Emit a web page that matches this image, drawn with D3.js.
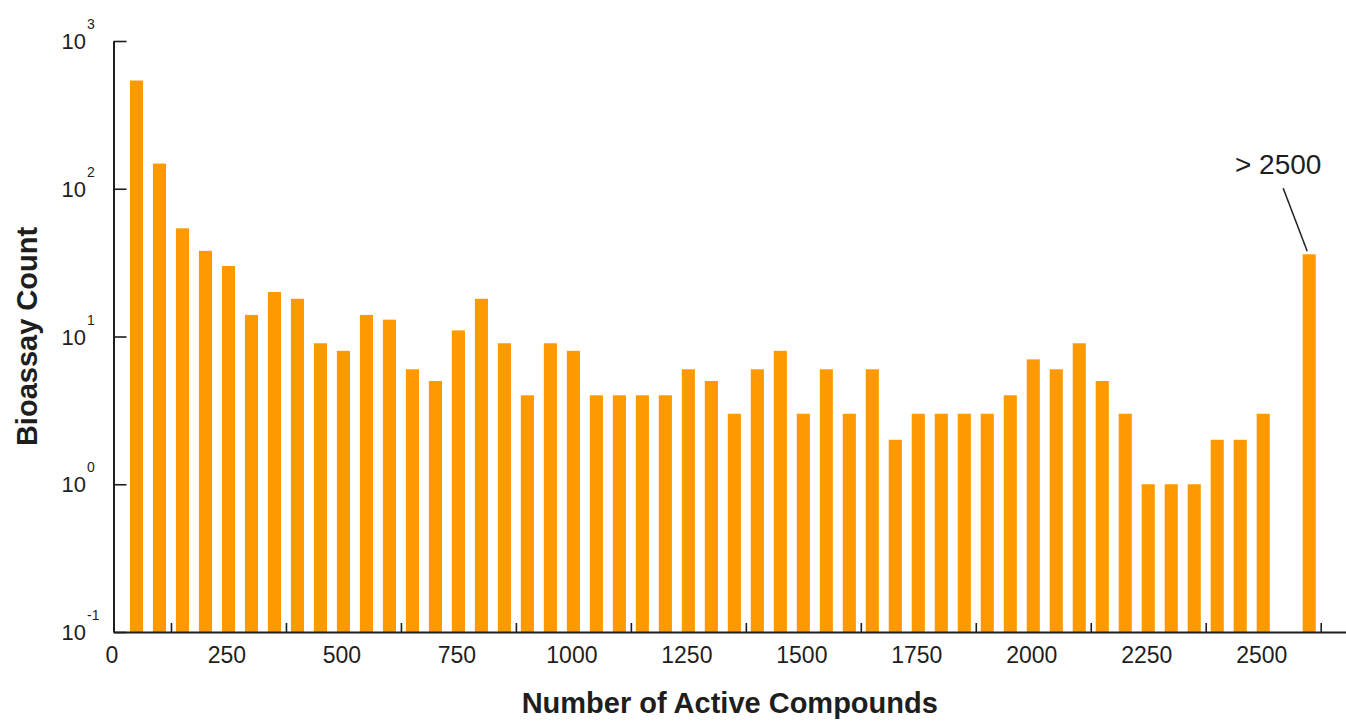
<!DOCTYPE html>
<html>
<head>
<meta charset="utf-8">
<script src="https://cdn.jsdelivr.net/npm/d3@7"></script>
<style>
  html, body { margin: 0; padding: 0; background: #ffffff; }
  svg { display: block; }
  text { font-family: "Liberation Sans", Arial, sans-serif; fill: #1e1e1e; }
</style>
</head>
<body>
<svg id="chart" width="1346" height="721"></svg>
<script>
// Histogram bins: number of active compounds per bioassay (bin centres)
const binCenters = [
  50, 100, 150, 200, 250, 300, 350, 400, 450, 500,
  550, 600, 650, 700, 750, 800, 850, 900, 950, 1000,
  1050, 1100, 1150, 1200, 1250, 1300, 1350, 1400, 1450, 1500,
  1550, 1600, 1650, 1700, 1750, 1800, 1850, 1900, 1950, 2000,
  2050, 2100, 2150, 2200, 2250, 2300, 2350, 2400, 2450, 2500,
  2600
];
// Bioassay counts in each bin (last bin collects everything above 2500)
const counts = [
  540, 148, 54, 38, 30, 14, 20, 18, 9, 8,
  14, 13, 6, 5, 11, 18, 9, 4, 9, 8,
  4, 4, 4, 4, 6, 5, 3, 6, 8, 3,
  6, 3, 6, 2, 3, 3, 3, 3, 4, 7,
  6, 9, 5, 3, 1, 1, 1, 2, 2, 3,
  36
];
const xTickLabels = [0, 250, 500, 750, 1000, 1250, 1500, 1750, 2000, 2250, 2500];
const xTickMarks = [125, 375, 625, 875, 1125, 1375, 1625, 1875, 2125, 2375, 2625];
const yTickValues = [0.1, 1, 10, 100, 1000];
const overflowLabel = "> 2500";
const overflowBin = 2600;

const svg = d3.select("#chart");
const ink = "#1e1e1e";

const x = d3.scaleLinear().domain([0, 2680]).range([113.5, 1346]);
const y = d3.scaleLog().domain([0.1, 1000]).range([632, 41]);

const binWidth = 28.5; // in data units

// Bars
svg.append("g")
  .selectAll("rect")
  .data(binCenters.map((c, i) => ({ c, v: counts[i] })))
  .join("rect")
  .attr("x", d => x(d.c - binWidth / 2))
  .attr("width", d => x(d.c + binWidth / 2) - x(d.c - binWidth / 2))
  .attr("y", d => y(d.v))
  .attr("height", d => y(0.1) - y(d.v))
  .attr("fill", "#ff9900");

// X axis: baseline with inward tick marks between the labels
const xMarks = svg.append("g")
  .attr("transform", `translate(0,${y(0.1)})`)
  .call(d3.axisBottom(x).tickValues(xTickMarks).tickSizeInner(-9).tickSizeOuter(0).tickFormat(""));
xMarks.select(".domain").attr("stroke", ink).attr("stroke-width", 2);
xMarks.selectAll(".tick line").attr("stroke", ink).attr("stroke-width", 1.6);

// X labels
const xLabels = svg.append("g")
  .attr("transform", `translate(-2,${y(0.1)})`)
  .call(d3.axisBottom(x).tickValues(xTickLabels).tickSize(0).tickPadding(31).tickFormat(d3.format("d")));
xLabels.select(".domain").remove();
xLabels.selectAll(".tick text")
  .attr("font-size", 23)
  .attr("font-family", "Liberation Sans, Arial, sans-serif")
  .attr("fill", ink)
  .attr("dy", 0);

// Y axis line with inward ticks
const yAxis = svg.append("g")
  .attr("transform", `translate(${x(0)},0)`)
  .call(d3.axisLeft(y).tickValues(yTickValues).tickSizeInner(-13).tickSizeOuter(0).tickFormat(""));
yAxis.select(".domain").attr("stroke", ink).attr("stroke-width", 2);
yAxis.selectAll(".tick line").attr("stroke", ink).attr("stroke-width", 1.6);

// Y labels as powers of ten
const yLab = svg.append("g")
  .selectAll("g")
  .data(yTickValues)
  .join("g")
  .attr("transform", d => `translate(86,${y(d)})`);
yLab.append("text")
  .attr("text-anchor", "end")
  .attr("y", 8)
  .attr("font-size", 22)
  .text("10");
yLab.append("text")
  .attr("x", 1)
  .attr("y", -12)
  .attr("font-size", 14)
  .text(d => String(Math.round(Math.log10(d))));

// Axis titles
svg.append("text")
  .attr("x", (x.range()[0] + x.range()[1]) / 2)
  .attr("y", 713)
  .attr("text-anchor", "middle")
  .attr("font-size", 29)
  .attr("font-weight", "bold")
  .attr("fill", "#111")
  .text("Number of Active Compounds");

svg.append("text")
  .attr("transform", `translate(37,${(y.range()[0] + y.range()[1]) / 2}) rotate(-90)`)
  .attr("text-anchor", "middle")
  .attr("font-size", 29)
  .attr("font-weight", "bold")
  .attr("fill", "#111")
  .text("Bioassay Count");

// Annotation for the overflow bin
const overflowValue = counts[binCenters.indexOf(overflowBin)];
const tipX = x(overflowBin) - 2;
const tipY = y(overflowValue) - 3;
svg.append("line")
  .attr("x1", tipX - 24).attr("y1", tipY - 63)
  .attr("x2", tipX).attr("y2", tipY)
  .attr("stroke", ink)
  .attr("stroke-width", 1.5);
svg.append("text")
  .attr("x", tipX - 29)
  .attr("y", tipY - 77)
  .attr("text-anchor", "middle")
  .attr("font-size", 28)
  .attr("fill", ink)
  .text(overflowLabel);
</script>
</body>
</html>
